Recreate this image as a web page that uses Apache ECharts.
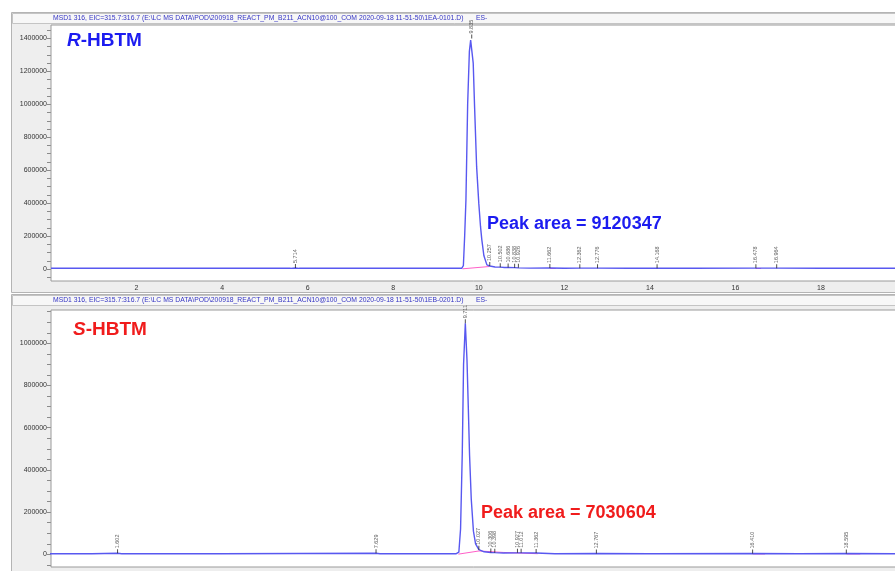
<!DOCTYPE html>
<html>
<head>
<meta charset="utf-8">
<script src="https://cdn.jsdelivr.net/npm/echarts@6/dist/echarts.min.js"></script>
<style>
  html, body { margin: 0; padding: 0; background: #ffffff; }
  #chart { width: 895px; height: 571px; }
</style>
</head>
<body>
<div id="chart"></div>
<script>
// EIC 315.7–316.7 traces: [retention time (min), abundance]
const traceR = [
  [0.0, 4000], [1.5, 4000], [3.0, 4000], [5.60, 4000], [5.714, 6000], [5.80, 4000],
  [7.5, 4000], [9.0, 4000], [9.60, 4000], [9.64, 20000], [9.67, 200000], [9.70, 420000],
  [9.74, 1000000], [9.78, 1320000], [9.81, 1390000], [9.835, 1400000], [9.87, 1250000],
  [9.90, 1000000], [9.95, 620000], [10.00, 400000], [10.04, 260000], [10.07, 180000],
  [10.12, 80000], [10.19, 25000], [10.257, 18000], [10.38, 12000], [10.502, 11000],
  [10.60, 9000], [10.686, 9000], [10.838, 8000], [10.926, 7000], [11.20, 5000],
  [11.662, 6000], [12.0, 4000], [12.362, 5000], [12.776, 5000], [13.5, 4000],
  [14.168, 5000], [15.0, 4000], [16.478, 5000], [16.964, 5000], [18.0, 4000], [19.8, 4000]
];
const traceS = [
  [0.0, 3000], [1.0, 3000], [1.602, 5000], [1.70, 3000], [4.0, 3000], [7.629, 5000],
  [7.72, 3000], [9.0, 3000], [9.50, 3000], [9.56, 10000], [9.60, 120000], [9.64, 480000],
  [9.67, 900000], [9.711, 1095000], [9.75, 920000], [9.78, 700000], [9.81, 470000],
  [9.85, 260000], [9.90, 110000], [9.95, 50000], [10.027, 22000], [10.15, 12000],
  [10.306, 9000], [10.398, 8000], [10.60, 6000], [10.927, 7000], [11.012, 7000],
  [11.362, 6000], [11.8, 3000], [12.767, 4000], [14.0, 3000], [16.41, 4000],
  [17.5, 3000], [18.595, 4000], [19.8, 3000]
];

// Integrated peaks: [retention time, apex abundance]
const peaksR = [
  [5.714, 6000], [9.835, 1400000], [10.257, 18000], [10.502, 11000], [10.686, 9000],
  [10.838, 8000], [10.926, 7000], [11.662, 6000], [12.362, 5000], [12.776, 5000],
  [14.168, 5000], [16.478, 5000], [16.964, 5000]
];
const peaksS = [
  [1.602, 5000], [7.629, 5000], [9.711, 1095000], [10.027, 22000], [10.306, 9000],
  [10.398, 8000], [10.927, 7000], [11.012, 7000], [11.362, 6000], [12.767, 4000],
  [16.41, 4000], [18.595, 4000]
];

// Integration baselines (pink), '-' breaks a segment
const baseR = [[9.62, 1000], [10.25, 15000], '-', [11.66, 3000], [11.80, 3000], '-',
  [14.17, 3000], [14.30, 3000], '-', [16.48, 3000], [16.60, 3000]];
const baseS = [[9.55, 1000], [10.03, 16000], [10.60, 9000], [11.40, 3000], '-',
  [16.41, 2000], [16.70, 2000], '-', [18.60, 2000], [18.92, 2000]];

// Axis ticks and labels
const xTicks = [0.5, 1, 1.5, 2, 2.5, 3, 3.5, 4, 4.5, 5, 5.5, 6, 6.5, 7, 7.5, 8, 8.5, 9, 9.5,
  10, 10.5, 11, 11.5, 12, 12.5, 13, 13.5, 14, 14.5, 15, 15.5, 16, 16.5, 17, 17.5, 18, 18.5, 19, 19.5];
const xLabels = [2, 4, 6, 8, 10, 12, 14, 16, 18];
const yTicksR = [-50000, 0, 50000, 100000, 150000, 200000, 250000, 300000, 350000, 400000,
  450000, 500000, 550000, 600000, 650000, 700000, 750000, 800000, 850000, 900000, 950000,
  1000000, 1050000, 1100000, 1150000, 1200000, 1250000, 1300000, 1350000, 1400000, 1450000];
const yLabelsR = [0, 200000, 400000, 600000, 800000, 1000000, 1200000, 1400000];
const yTicksS = [-50000, 0, 50000, 100000, 150000, 200000, 250000, 300000, 350000, 400000,
  450000, 500000, 550000, 600000, 650000, 700000, 750000, 800000, 850000, 900000, 950000,
  1000000, 1050000, 1100000, 1150000];
const yLabelsS = [0, 200000, 400000, 600000, 800000, 1000000];

const headerR = 'MSD1 316, EIC=315.7:316.7 (E:\\LC MS DATA\\POD\\200918_REACT_PM_B211_ACN10@100_COM 2020-09-18 11-51-50\\1EA-0101.D)';
const headerS = 'MSD1 316, EIC=315.7:316.7 (E:\\LC MS DATA\\POD\\200918_REACT_PM_B211_ACN10@100_COM 2020-09-18 11-51-50\\1EB-0201.D)';

const FONT = 'Liberation Sans, Arial, sans-serif';
const TRACE = '#5858f0';
const PINK = '#ff5fc8';
const AXIS = '#8a8a8a';

function xAxis(gridIndex, min) {
  return {
    type: 'value', gridIndex, min, max: 19.8,
    axisLine: { show: false },
    splitLine: { show: false },
    axisTick: { show: true, customValues: xTicks, length: 3, lineStyle: { color: AXIS } },
    axisLabel: { customValues: xLabels, fontSize: 7, color: '#333',
      fontFamily: FONT, margin: 4 }
  };
}
function yAxis(gridIndex, min, max, ticks, labels) {
  return {
    type: 'value', gridIndex, min, max,
    axisLine: { show: false },
    splitLine: { show: false },
    axisTick: { show: true, customValues: ticks, length: 4, lineStyle: { color: AXIS } },
    axisLabel: { customValues: labels, fontSize: 7, color: '#333', fontFamily: FONT, margin: 4,
      formatter: v => String(v) }
  };
}
function peakSeries(idx, data) {
  return {
    type: 'scatter', xAxisIndex: idx, yAxisIndex: idx, data,
    symbol: 'rect', symbolSize: [1, 4], symbolOffset: [0, -2],
    itemStyle: { color: '#222' }, silent: true, z: 4,
    label: {
      show: true, position: 'top', distance: 1, rotate: 90, align: 'left',
      verticalAlign: 'middle', fontSize: 5.5, color: '#333', fontFamily: FONT,
      formatter: p => p.value[0].toFixed(3)
    }
  };
}

const chart = echarts.init(document.getElementById('chart'), null, { renderer: 'canvas' });
chart.setOption({
  animation: false,
  backgroundColor: '#ffffff',
  grid: [
    { left: 51, top: 25, right: -3, height: 256, show: true, backgroundColor: '#ffffff',
      borderColor: '#9a9a9a', borderWidth: 1, z: 1, outerBoundsMode: 'none', containLabel: false },
    { left: 51, top: 310, right: -3, height: 257, show: true, backgroundColor: '#ffffff',
      borderColor: '#9a9a9a', borderWidth: 1, z: 1, outerBoundsMode: 'none', containLabel: false }
  ],
  xAxis: [xAxis(0, 0), xAxis(1, 0.05)],
  yAxis: [
    yAxis(0, -73000, 1482000, yTicksR, yLabelsR),
    yAxis(1, -60000, 1158000, yTicksS, yLabelsS)
  ],
  series: [
    { type: 'line', xAxisIndex: 0, yAxisIndex: 0, data: traceR, symbol: 'none',
      lineStyle: { color: TRACE, width: 1.4 }, z: 3, silent: true },
    { type: 'line', xAxisIndex: 0, yAxisIndex: 0, data: baseR, symbol: 'none',
      lineStyle: { color: PINK, width: 1 }, z: 2, silent: true },
    peakSeries(0, peaksR),
    { type: 'line', xAxisIndex: 1, yAxisIndex: 1, data: traceS, symbol: 'none',
      lineStyle: { color: TRACE, width: 1.4 }, z: 3, silent: true },
    { type: 'line', xAxisIndex: 1, yAxisIndex: 1, data: baseS, symbol: 'none',
      lineStyle: { color: PINK, width: 1 }, z: 2, silent: true },
    peakSeries(1, peaksS)
  ],
  graphic: [
    // panel frames
    { type: 'rect', z: -10, shape: { x: 11.5, y: 12.5, width: 900, height: 280 },
      style: { fill: '#eeeeee', stroke: '#b4b4b4', lineWidth: 1 } },
    { type: 'rect', z: -9, shape: { x: 12.5, y: 13.5, width: 900, height: 10 },
      style: { fill: '#f7f7f7', stroke: '#c4c4c4', lineWidth: 1 } },
    { type: 'rect', z: -10, shape: { x: 11.5, y: 294.5, width: 900, height: 290 },
      style: { fill: '#eeeeee', stroke: '#b4b4b4', lineWidth: 1 } },
    { type: 'rect', z: -9, shape: { x: 12.5, y: 295.5, width: 900, height: 10 },
      style: { fill: '#f7f7f7', stroke: '#c4c4c4', lineWidth: 1 } },
    // data file headers
    { type: 'text', z: 10, x: 53, y: 18.5,
      style: { text: headerR, font: '6.8px ' + FONT, fill: '#3434c4', verticalAlign: 'middle' } },
    { type: 'text', z: 10, x: 476, y: 18.5,
      style: { text: 'ES-', font: '6.8px ' + FONT, fill: '#3434c4', verticalAlign: 'middle' } },
    { type: 'text', z: 10, x: 53, y: 300.5,
      style: { text: headerS, font: '6.8px ' + FONT, fill: '#3434c4', verticalAlign: 'middle' } },
    { type: 'text', z: 10, x: 476, y: 300.5,
      style: { text: 'ES-', font: '6.8px ' + FONT, fill: '#3434c4', verticalAlign: 'middle' } },
    // enantiomer names
    { type: 'text', z: 10, x: 67, y: 41,
      style: { text: '{i|R}{n|-HBTM}', verticalAlign: 'middle',
        rich: {
          i: { font: 'italic bold 19px ' + FONT, fill: '#1c1cf0' },
          n: { font: 'bold 19px ' + FONT, fill: '#1c1cf0' }
        } } },
    { type: 'text', z: 10, x: 73, y: 330,
      style: { text: '{i|S}{n|-HBTM}', verticalAlign: 'middle',
        rich: {
          i: { font: 'italic bold 19px ' + FONT, fill: '#f01c1c' },
          n: { font: 'bold 19px ' + FONT, fill: '#f01c1c' }
        } } },
    // integrated areas
    { type: 'text', z: 10, x: 487, y: 224,
      style: { text: 'Peak area = 9120347', font: 'bold 18px ' + FONT, fill: '#1c1cf0',
        verticalAlign: 'middle' } },
    { type: 'text', z: 10, x: 481, y: 513,
      style: { text: 'Peak area = 7030604', font: 'bold 18px ' + FONT, fill: '#f01c1c',
        verticalAlign: 'middle' } }
  ]
});
</script>
</body>
</html>
